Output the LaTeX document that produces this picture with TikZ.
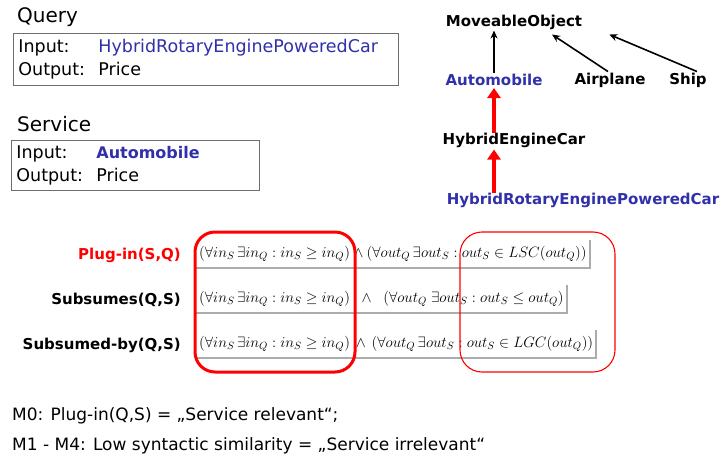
\RequirePackage{fix-cm}
\documentclass[tikz,border=0pt]{standalone}
\usepackage{fontspec}
\setmainfont{DejaVu Sans}
\usetikzlibrary{arrows.meta}
\definecolor{conceptblue}{RGB}{48,48,170}
\definecolor{framegray}{RGB}{110,110,110}
\tikzset{
  heading/.style={anchor=west,inner sep=0pt,font=\fontsize{20}{22}\selectfont},
  iobox/.style={draw=framegray,thick,anchor=north west,inner sep=5pt,
    align=left,font=\fontsize{17.5}{23}\selectfont},
  concept/.style={inner sep=1pt,font=\fontsize{15}{18}\selectfont\bfseries},
  isa/.style={line width=1.6pt,-{Stealth[length=8pt,width=7pt]}},
  subclass/.style={red,line width=4pt,-{Triangle[length=10pt,width=13pt]}},
  relname/.style={anchor=east,inner sep=0pt,font=\fontsize{15}{18}\selectfont\bfseries},
  formula/.style={anchor=west,inner sep=3pt,minimum height=28pt,font=\fontsize{15}{17}\selectfont},
  shade/.style={gray!65,line width=2pt},
  remark/.style={anchor=west,inner sep=0pt,font=\fontsize{17}{20}\selectfont}
}
\begin{document}
\begin{tikzpicture}[x=1pt,y=-1pt]
  \useasboundingbox[fill=white] (0,0) rectangle (725,465);

  % query and service descriptions
  \node[heading] (qtitle) at (17,17) {Query};
  \node[iobox,text width=375pt,minimum height=52pt] (query) at (13,33)
    {\makebox[80pt][l]{Input:}\textcolor{conceptblue}{HybridRotaryEnginePoweredCar}\\
     \makebox[80pt][l]{Output:}Price};
  \node[heading] (stitle) at (17,124) {Service};
  \node[iobox,text width=238pt,minimum height=50pt] (service) at (11,140)
    {\makebox[80pt][l]{Input:}\textcolor{conceptblue}{\fontsize{16}{23}\selectfont\bfseries Automobile}\\
     \makebox[80pt][l]{Output:}Price};

  % ontology
  \node[concept] (mo) at (514,22) {MoveableObject};
  \node[concept,conceptblue] (auto) at (494,80) {Automobile};
  \node[concept] (air) at (610,80) {Airplane};
  \node[concept] (ship) at (688,80) {Ship};
  \node[concept] (hec) at (514,140) {HybridEngineCar};
  \node[concept,conceptblue] (hrepc) at (583,200) {HybridRotaryEnginePoweredCar};

  \draw[isa] (auto.north) -- (auto.north |- mo.south);
  \draw[isa] ([xshift=-2pt]air.north) -- ([xshift=38pt,yshift=-4pt]mo.south);
  \draw[isa] ([xshift=9pt]ship.north) -- ([xshift=26pt,yshift=-4pt]mo.south east);
  \draw[subclass] ([yshift=-2pt]hec.north -| auto.north) -- ([yshift=-1pt]auto.south);
  \draw[subclass] ([yshift=-2pt]hrepc.north -| auto.north) -- ([yshift=-1pt]hec.south -| auto.north);

  % matching degrees
  \node[relname,red] (plugin) at (181,255) {Plug-in(S,Q)};
  \node[relname] (subs) at (181,300) {Subsumes(Q,S)};
  \node[relname] (subsby) at (181,345) {Subsumed-by(Q,S)};

  \node[formula] (f1) at (196,254)
    {$(\forall in_S\,\exists in_Q : in_S \geq in_Q) \wedge
      (\forall out_Q\,\exists out_S : out_S \in LSC(out_Q))$};
  \node[formula] (f2) at (196,299)
    {$(\forall in_S\,\exists in_Q : in_S \geq in_Q)\;\; \wedge\;\;
      (\forall out_Q\;\exists out_S : out_S \leq out_Q)$};
  \node[formula] (f3) at (196,344)
    {$(\forall in_S\,\exists in_Q : in_S \geq in_Q)\, \wedge\,
      (\forall out_Q\,\exists out_S : out_S \in LGC(out_Q))$};
  \foreach \f in {f1,f2,f3}
    \draw[shade] (\f.south west) -- (\f.south east) -- (\f.north east);

  \draw[red,line width=3pt,rounded corners=20pt] (195,232) rectangle (355,372);
  \draw[red,line width=1.1pt,rounded corners=22pt] (460,232) rectangle (615,372);

  % result
  \node[remark] (m0) at (12,416) {M0: Plug-in(Q,S) = „Service relevant“;};
  \node[remark] (m14) at (12,446) {M1 - M4: Low syntactic similarity = „Service irrelevant“};
\end{tikzpicture}
\end{document}
